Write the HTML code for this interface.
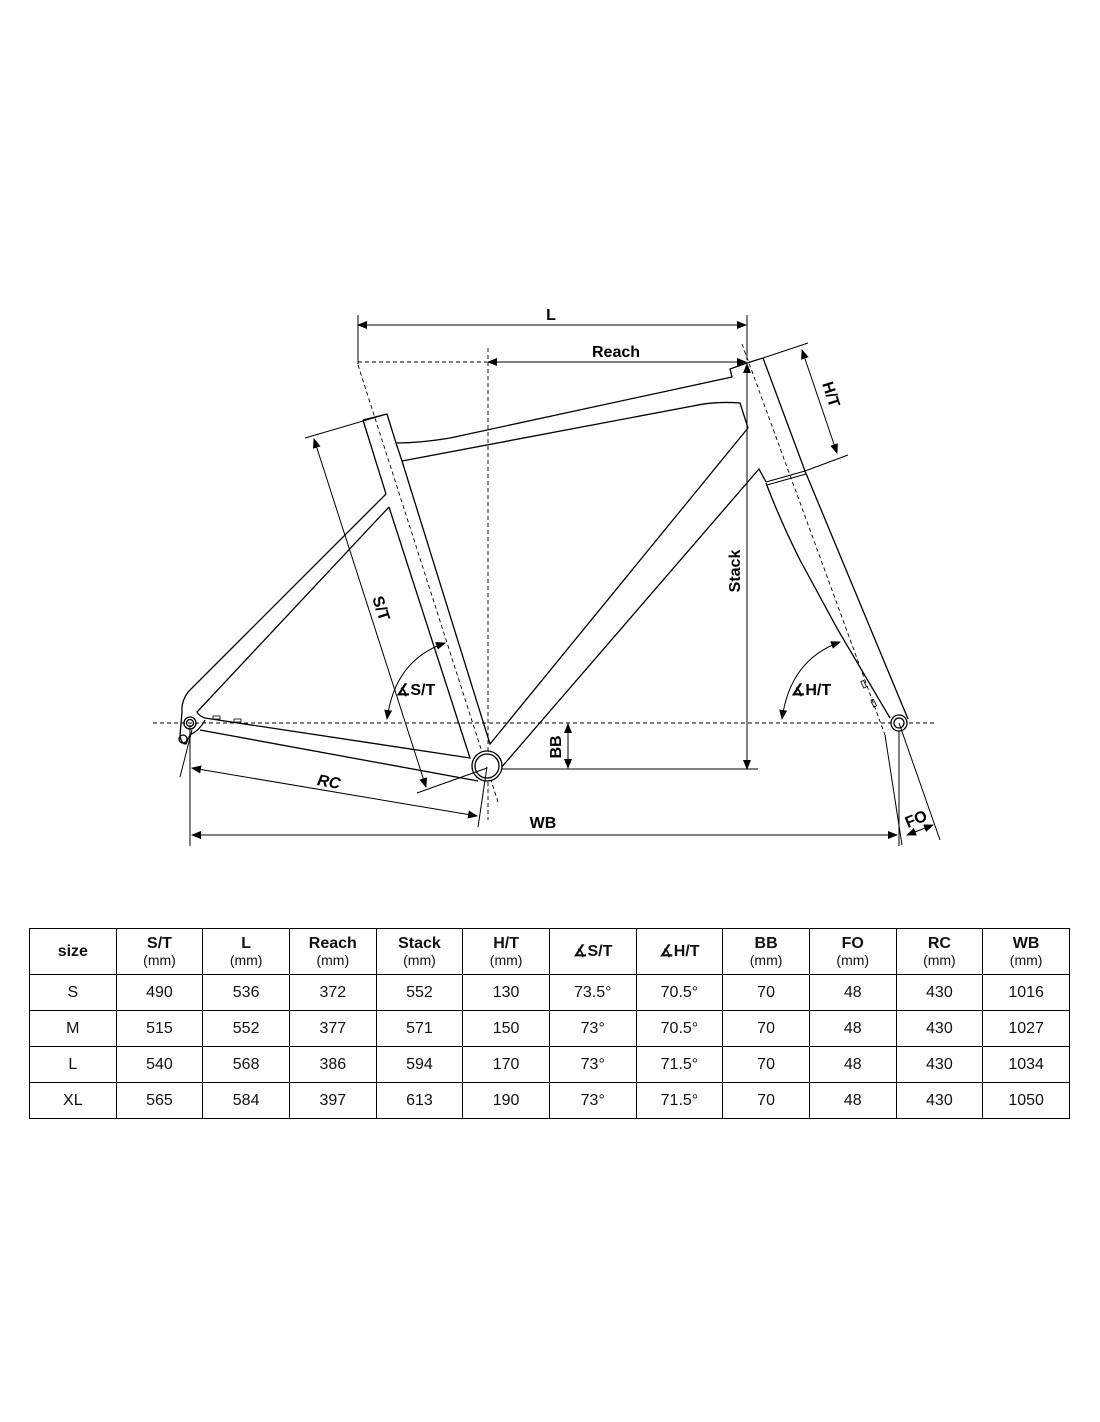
<!DOCTYPE html>
<html><head><meta charset="utf-8"><style>
html,body{margin:0;padding:0;background:#fff}
body{width:1100px;height:1422px;position:relative;font-family:"Liberation Sans",Arial,sans-serif}
svg{position:absolute;left:0;top:0}
table{position:absolute;left:29px;top:928px;border-collapse:collapse;width:1041px;table-layout:fixed}
td{border:1px solid #000;text-align:center;font-size:16px;height:35px;padding:0;color:#111}
tr.h td{height:45px;font-weight:bold;font-size:16px;line-height:17px}
tr.h td span{font-weight:normal;font-size:14px;display:block}
</style></head><body>
<svg width="1100" height="1422" viewBox="0 0 1100 1422">
<defs>
<marker id="a" markerWidth="10" markerHeight="8" refX="9" refY="4" orient="auto" markerUnits="userSpaceOnUse"><path d="M0,0 L10,4 L0,8 z" fill="#000"/></marker>
<marker id="s" markerWidth="10" markerHeight="8" refX="1" refY="4" orient="auto" markerUnits="userSpaceOnUse"><path d="M10,0 L0,4 L10,8 z" fill="#000"/></marker>
</defs>
<g fill="none" stroke="#000" stroke-width="1.3">
<g stroke-dasharray="4,3" stroke-width="0.9">
<line x1="153" y1="723" x2="936" y2="723"/>
<line x1="358" y1="362" x2="487" y2="362"/>
<line x1="488" y1="348" x2="488" y2="820"/>
<line x1="358" y1="365" x2="498" y2="802"/>
<line x1="742" y1="344" x2="885" y2="735"/>
</g>
<line x1="885" y1="735" x2="902" y2="845" stroke-width="1"/>
<line x1="358" y1="315" x2="358" y2="364" stroke-width="1"/>
<line x1="358" y1="325" x2="746" y2="325" stroke-width="1" marker-start="url(#s)" marker-end="url(#a)"/>
<line x1="747" y1="315" x2="747" y2="360" stroke-width="1"/>
<line x1="488" y1="362" x2="746" y2="362" stroke-width="1" marker-start="url(#s)" marker-end="url(#a)"/>
<line x1="747" y1="364" x2="747" y2="769" stroke-width="1" marker-start="url(#s)" marker-end="url(#a)"/>
<line x1="490" y1="769" x2="758" y2="769" stroke-width="1"/>
<line x1="568" y1="724" x2="568" y2="768" stroke-width="1" marker-start="url(#s)" marker-end="url(#a)"/>
<!-- seat tube / frame -->
<path d="M363,420 L387,414 L396,443 Q420,443 450,438 L732,377 L730,369 L747,363 L763,358"/>
<path d="M363,420 L386,494 M389,507 L470,758 L205,718 Q199,716 197,712 L389,507"/>
<path d="M402,461 L490,744 L748,428 L740,403 Q715,401 693,406 L402,461"/>
<path d="M402,461 L396,443"/>
<!-- seat stay outer -->
<path d="M386,494 L188,692 Q181,702 182,712"/>
<path d="M200,730 L478,781"/>
<path d="M182,712 L180,735 Q181,744 186,744 L190,735 Q200,730 205,720"/>
<circle cx="190" cy="723" r="6"/>
<circle cx="190" cy="723" r="3.5"/>
<circle cx="183" cy="739" r="4"/>
<rect x="213" y="716" width="7" height="3" stroke-width="0.8"/>
<rect x="234" y="719" width="7" height="3" stroke-width="0.8"/>
<path d="M500,769 L759,469 L766,482"/>
<circle cx="487" cy="766" r="15" fill="#fff"/>
<circle cx="487" cy="766" r="12"/>
<path d="M763,358 L805,471 L908,719"/>
<path d="M766,482 L805,471 M767,485 L806,474" stroke-width="1"/>
<path d="M766,483 Q780,520 800,560 L838,630 L890,718"/>
<circle cx="899" cy="723" r="8" fill="#fff"/>
<circle cx="899" cy="723" r="5"/>
<rect x="862" y="681" width="3" height="7" transform="rotate(-25 863 684)" stroke-width="0.8"/>
<rect x="872" y="700" width="3" height="7" transform="rotate(-25 873 703)" stroke-width="0.8"/>
<line x1="763" y1="358" x2="808" y2="343" stroke-width="1"/>
<line x1="805" y1="471" x2="848" y2="455" stroke-width="1"/>
<line x1="802" y1="350" x2="837" y2="453" stroke-width="1" marker-start="url(#s)" marker-end="url(#a)"/>
<line x1="305" y1="438" x2="387" y2="414" stroke-width="1"/>
<line x1="314" y1="439" x2="426" y2="787" stroke-width="1" marker-start="url(#s)" marker-end="url(#a)"/>
<line x1="417" y1="793" x2="487" y2="768" stroke-width="1"/>
<path d="M445,643 Q395,660 387,719" stroke-width="1" marker-start="url(#s)" marker-end="url(#a)"/>
<path d="M840,642 Q790,660 782,719" stroke-width="1" marker-start="url(#s)" marker-end="url(#a)"/>
<line x1="180" y1="777" x2="192" y2="730" stroke-width="1"/>
<line x1="478" y1="827" x2="487" y2="767" stroke-width="1"/>
<line x1="192" y1="768" x2="477" y2="816" stroke-width="1" marker-start="url(#s)" marker-end="url(#a)"/>
<line x1="190" y1="725" x2="190" y2="846" stroke-width="1"/>
<line x1="899" y1="731" x2="899" y2="846" stroke-width="1"/>
<line x1="192" y1="835" x2="897" y2="835" stroke-width="1" marker-start="url(#s)" marker-end="url(#a)"/>
<line x1="899" y1="723" x2="940" y2="840" stroke-width="1"/>
<line x1="907" y1="835" x2="933" y2="825" stroke-width="1" marker-start="url(#s)" marker-end="url(#a)"/>
</g>
<g font-family="Liberation Sans, Arial, sans-serif" font-weight="bold" font-size="16" fill="#000">
<text x="551" y="320" text-anchor="middle">L</text>
<text x="616" y="357" text-anchor="middle">Reach</text>
<text transform="translate(740,571) rotate(-90)" text-anchor="middle">Stack</text>
<text transform="translate(561,747) rotate(-90)" text-anchor="middle">BB</text>
<text transform="translate(376,610) rotate(72)" text-anchor="middle">S/T</text>
<text transform="translate(826,396) rotate(72)" text-anchor="middle">H/T</text>
<text transform="translate(328,787) rotate(10)" text-anchor="middle" font-style="italic">RC</text>
<text x="543" y="828" text-anchor="middle">WB</text>
<text transform="translate(918,824) rotate(-22)" text-anchor="middle">FO</text>
<text x="396" y="695" font-size="16">∡S/T</text>
<text x="791" y="695" font-size="16">∡H/T</text>
</g>
</svg>
<table>
<tr class="h"><td>size</td><td>S/T<span>(mm)</span></td><td>L<span>(mm)</span></td><td>Reach<span>(mm)</span></td><td>Stack<span>(mm)</span></td><td>H/T<span>(mm)</span></td><td>∡S/T</td><td>∡H/T</td><td>BB<span>(mm)</span></td><td>FO<span>(mm)</span></td><td>RC<span>(mm)</span></td><td>WB<span>(mm)</span></td></tr>
<tr><td>S</td><td>490</td><td>536</td><td>372</td><td>552</td><td>130</td><td>73.5°</td><td>70.5°</td><td>70</td><td>48</td><td>430</td><td>1016</td></tr>
<tr><td>M</td><td>515</td><td>552</td><td>377</td><td>571</td><td>150</td><td>73°</td><td>70.5°</td><td>70</td><td>48</td><td>430</td><td>1027</td></tr>
<tr><td>L</td><td>540</td><td>568</td><td>386</td><td>594</td><td>170</td><td>73°</td><td>71.5°</td><td>70</td><td>48</td><td>430</td><td>1034</td></tr>
<tr><td>XL</td><td>565</td><td>584</td><td>397</td><td>613</td><td>190</td><td>73°</td><td>71.5°</td><td>70</td><td>48</td><td>430</td><td>1050</td></tr>
</table>
</body></html>
